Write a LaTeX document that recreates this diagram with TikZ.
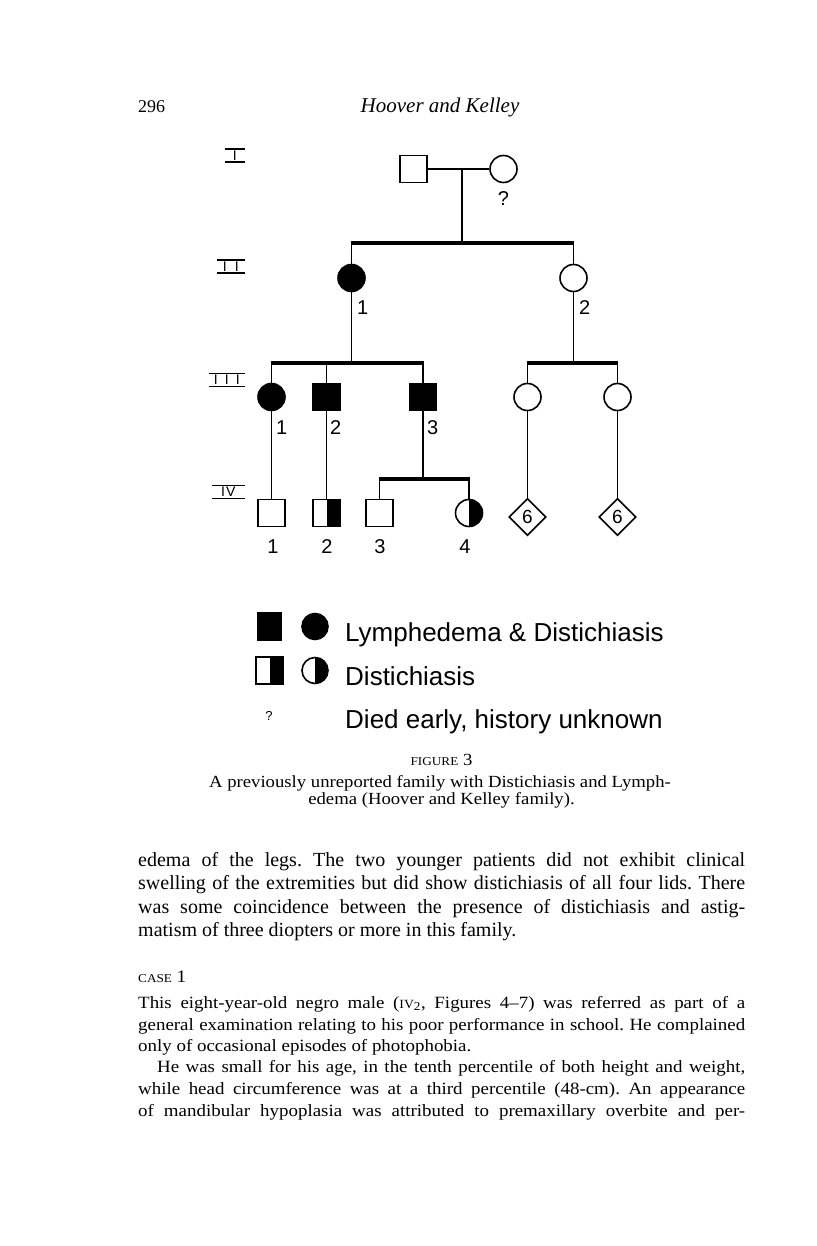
\documentclass[tikz,border=0pt]{standalone}
\usepackage{fontspec}
\setmainfont{Liberation Serif}
\newfontfamily\pedfont{Liberation Sans}
\newfontfamily\widefont{Liberation Serif}[FakeStretch=1.1, Ligatures=TeX]
\usetikzlibrary{shapes.geometric}
\newcommand\jline[2]{\hbox to #1{\frenchspacing\spaceskip=.25em plus 1fil\relax #2}}
\begin{document}
\begin{tikzpicture}[x=1pt,y=-1pt,
  ln/.style={line width=1.6pt},
  bar/.style={line width=4pt},
  sym/.style={draw, line width=1.6pt, inner sep=0pt, minimum size=27pt},
  male/.style={sym, rectangle},
  female/.style={sym, circle},
  aff/.style={fill=black},
  carrier/.style={path picture={\fill[black] (path picture bounding box.north) rectangle (path picture bounding box.south east);}},
  unk/.style={draw, diamond, line width=1.6pt, inner sep=0pt, minimum size=37pt, font=\pedfont\fontsize{19}{19}\selectfont},
  num/.style={font=\pedfont\fontsize{20}{20}\selectfont, inner sep=0pt},
  gen/.style={font=\pedfont\fontsize{14}{14}\selectfont, inner xsep=2pt, inner ysep=1.5pt, anchor=east},
  legtext/.style={font=\pedfont\fontsize{26}{26}\selectfont, inner sep=0pt, anchor=base west},
  bodyA/.style={font=\fontsize{20}{23}\selectfont, inner sep=0pt, anchor=base west},
  bodyB/.style={font=\widefont\fontsize{17.2}{21}\selectfont, inner sep=0pt, anchor=base west},
  capt/.style={font=\widefont\fontsize{17}{18}\selectfont, inner sep=0pt, anchor=base}
]
\useasboundingbox[fill=white] (0,0) rectangle (816,1246);

% running head
\node[font=\fontsize{18}{18}\selectfont, inner sep=0pt, anchor=base west] (pg) at (138,113) {296};
\node[font=\itshape\fontsize{21}{21}\selectfont, inner sep=0pt, anchor=base] (rh) at (440,113) {Hoover and Kelley};

% generation numerals
\node[gen, minimum width=20pt] (gI) at (245,155.5) {I};
\node[gen, minimum width=28pt] (gII) at (245,266.5) {I\hspace{8pt}I};
\node[gen, minimum width=36pt] (gIII) at (245,380) {I\hspace{7pt}I\hspace{7pt}I};
\node[gen, minimum width=33pt] (gIV) at (245,492) {I\hspace{1pt}V};
\foreach \g in {gI,gII,gIII,gIV}
  \draw[ln] (\g.north west) -- (\g.north east) (\g.south west) -- (\g.south east);

% individuals
\node[male] (I1) at (413.5,169) {};
\node[female] (I2) at (503.5,169) {};
\node[female, aff] (II1) at (351.5,278) {};
\node[female] (II2) at (573.5,278) {};
\node[female, aff] (III1) at (271.5,397) {};
\node[male, aff] (III2) at (326.5,397) {};
\node[male, aff] (III3) at (423,397) {};
\node[female] (III4) at (527.5,397) {};
\node[female] (III5) at (617.5,397) {};
\node[male] (IV1) at (271.5,513) {};
\node[male, carrier] (IV2) at (326.5,513) {};
\node[male] (IV3) at (379.5,513) {};
\node[female, carrier] (IV4) at (469,513) {};
\node[unk] (D1) at (527.5,517) {6};
\node[unk] (D2) at (617.5,517) {6};

% coordinates
\coordinate (m1) at (462,169);
\coordinate (b2c) at (462,243);
\coordinate (b2L) at (351.5,243);
\coordinate (b2R) at (573.5,243);
\coordinate (b3c) at (351.5,363);
\coordinate (b3L) at (271.5,363);
\coordinate (b3M) at (326.5,363);
\coordinate (b3R) at (423,363);
\coordinate (b3rc) at (573.5,363);
\coordinate (b3rL) at (527.5,363);
\coordinate (b3rR) at (617.5,363);
\coordinate (b4c) at (423,479);
\coordinate (b4L) at (379.5,479);
\coordinate (b4R) at (469,479);

% connectors
\draw[ln] (I1.east) -- (I2.west);
\draw[ln] (m1) -- (b2c);
\draw[bar] ([xshift=-0.8pt]b2L) -- ([xshift=0.8pt]b2R);
\draw[ln] (b2L) -- (II1.north);
\draw[ln] (b2R) -- (II2.north);
\draw[ln] (II1.south) -- (b3c);
\draw[bar] ([xshift=-0.8pt]b3L) -- ([xshift=0.8pt]b3R);
\draw[ln] (b3L) -- (III1.north);
\draw[ln] (b3M) -- (III2.north);
\draw[ln] (b3R) -- (III3.north);
\draw[ln] (II2.south) -- (b3rc);
\draw[bar] ([xshift=-0.8pt]b3rL) -- ([xshift=0.8pt]b3rR);
\draw[ln] (b3rL) -- (III4.north);
\draw[ln] (b3rR) -- (III5.north);
\draw[ln] (III1.south) -- (IV1.north);
\draw[ln] (III2.south) -- (IV2.north);
\draw[ln] (III3.south) -- (b4c);
\draw[bar] ([xshift=-0.8pt]b4L) -- ([xshift=0.8pt]b4R);
\draw[ln] (b4L) -- (IV3.north);
\draw[ln] (b4R) -- (IV4.north);
\draw[ln] (III4.south) -- (D1.north);
\draw[ln] (III5.south) -- (D2.north);

% labels
\node[num] (q1) at (503.5,199) {?};
\node[num, anchor=west] (lII1) at (357,308) {1};
\node[num, anchor=west] (lII2) at (579,308) {2};
\node[num, anchor=west] (lIII1) at (276,428) {1};
\node[num, anchor=west] (lIII2) at (330,428) {2};
\node[num, anchor=west] (lIII3) at (427,428) {3};
\node[num] (lIV1) at (273,547) {1};
\node[num] (lIV2) at (327,547) {2};
\node[num] (lIV3) at (380,547) {3};
\node[num] (lIV4) at (465,547) {4};

% legend
\node[male, aff, minimum width=24pt, minimum height=27pt] (lgA) at (269.5,626.5) {};
\node[female, aff, minimum size=26pt] (lgB) at (315,626.5) {};
\node[male, carrier] (lgC) at (269.5,670.5) {};
\node[female, carrier, minimum size=26pt] (lgD) at (315,670.5) {};
\node[font=\pedfont\fontsize{13}{13}\selectfont, inner sep=0pt] (lgE) at (269,716) {?};
\node[legtext] (lt1) at (345,641) {Lymphedema \& Distichiasis};
\node[legtext] (lt2) at (345,685) {Distichiasis};
\node[legtext] (lt3) at (345,728) {Died early, history unknown};

% caption
\node[capt] (fig) at (441.5,765) {{\fontsize{12}{12}\selectfont FIGURE} 3};
\node[capt] (c1) at (440,787) {A previously unreported family with Distichiasis and Lymph-};
\node[capt] (c2) at (441.5,804.5) {edema (Hoover and Kelley family).};

% body paragraph 1
\node[bodyA] (p1) at (138,866.4) {\jline{607pt}{edema of the legs. The two younger patients did not exhibit clinical}};
\node[bodyA] (p2) at (138,889.8) {\jline{607pt}{swelling of the extremities but did show distichiasis of all four lids. There}};
\node[bodyA] (p3) at (138,913) {\jline{607pt}{was some coincidence between the presence of distichiasis and astig-}};
\node[bodyA] (p4) at (138,936.8) {matism of three diopters or more in this family.};

% case 1
\node[bodyB] (case) at (138,982.7) {{\fontsize{12}{12}\selectfont CASE} {\fontsize{17.5}{17.5}\selectfont 1}};
\node[bodyB] (q1l) at (138,1008) {\jline{607pt}{This eight-year-old negro male ({\fontsize{12.5}{12.5}\selectfont IV}\textsubscript{2}, Figures 4\textendash 7) was referred as part of a}};
\node[bodyB] (q2l) at (138,1030) {\jline{607pt}{general examination relating to his poor performance in school. He complained}};
\node[bodyB] (q3l) at (138,1051) {only of occasional episodes of photophobia.};
\node[bodyB] (q4l) at (157,1072.6) {\jline{588pt}{He was small for his age, in the tenth percentile of both height and weight,}};
\node[bodyB] (q5l) at (138,1094.5) {\jline{607pt}{while head circumference was at a third percentile (48-cm). An appearance}};
\node[bodyB] (q6l) at (138,1116) {\jline{607pt}{of mandibular hypoplasia was attributed to premaxillary overbite and per-}};
\end{tikzpicture}
\end{document}
